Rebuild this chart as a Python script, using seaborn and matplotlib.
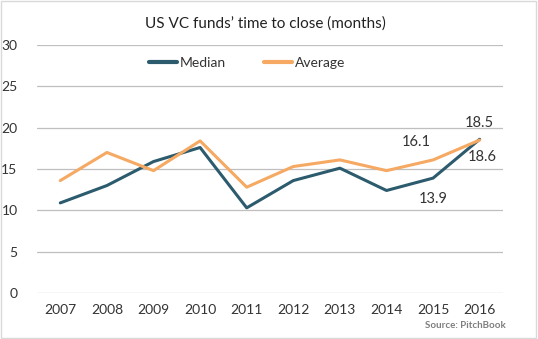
import matplotlib
matplotlib.use("Agg")
import matplotlib.pyplot as plt
import seaborn as sns
import pandas as pd
from matplotlib.patches import Rectangle
from matplotlib.lines import Line2D

years = ["2007", "2008", "2009", "2010", "2011", "2012", "2013", "2014", "2015", "2016"]
median = [10.9, 13.0, 15.9, 17.6, 10.3, 13.6, 15.1, 12.4, 13.9, 18.6]
average = [13.6, 17.0, 14.8, 18.4, 12.8, 15.3, 16.1, 14.8, 16.1, 18.5]
yticks = [0, 5, 10, 15, 20, 25, 30]

sns.set_theme(style="white")
plt.rcParams['font.family'] = ['Lato', 'DejaVu Sans']

df = pd.DataFrame({"year": years * 2,
                   "value": median + average,
                   "series": ["Median"] * len(years) + ["Average"] * len(years)})

fig = plt.figure(figsize=(5.38, 3.39), dpi=100)
ax = fig.add_axes([37/538, 1 - 293/339, 466/538, 248/339])
c_med = "#2C5B6E"
c_avg = "#F5A962"
sns.lineplot(data=df, x="year", y="value", hue="series", palette={"Median": c_med, "Average": c_avg},
             linewidth=2.2, ax=ax, legend=False, sort=False)

ax.set_ylim(0, 30)
ax.set_xlim(-0.5, len(years) - 0.5)
ax.set_yticks(yticks)
ax.set_yticklabels([str(t) for t in yticks])
ax.yaxis.grid(True, color="#BFBFBF", linewidth=0.9)
ax.xaxis.grid(False)
for s in ax.spines.values():
    s.set_visible(False)
ax.tick_params(axis="both", length=0, labelsize=10, colors="#333333")
ax.tick_params(axis="y", pad=14)
ax.tick_params(axis="x", pad=8)
ax.set_xlabel("")
ax.set_ylabel("")

# annotations
ax.annotate("16.1", (8, average[8]), xytext=(-2, 8), textcoords="offset points", ha="right", va="bottom", fontsize=10.5, color="#333333")
ax.annotate("13.9", (8, median[8]), xytext=(0, -10), textcoords="offset points", ha="center", va="top", fontsize=10.5, color="#333333")
ax.annotate("18.5", (9, average[9]), xytext=(0, 7), textcoords="offset points", ha="center", va="bottom", fontsize=10.5, color="#333333")
ax.annotate("18.6", (9, median[9]), xytext=(2, -8), textcoords="offset points", ha="center", va="top", fontsize=10.5, color="#333333")

# legend
handles = [Line2D([0], [0], color=c_med, lw=3), Line2D([0], [0], color=c_avg, lw=3)]
leg = fig.legend(handles, ["Median", "Average"], loc="center", bbox_to_anchor=(247/538, 1 - 63/339),
                 ncol=2, frameon=False, fontsize=10, handlelength=2.0, handletextpad=0.2, columnspacing=2.8)
for t in leg.get_texts():
    t.set_color("#333333")

fig.text(265/538, 1 - 24/339, "US VC funds\u2019 time to close (months)", ha="center", va="center", fontsize=11, color="#222222")
fig.text(506/538, 1 - 325/339, "Source: PitchBook", ha="right", va="center", fontsize=7, color="#7F7F7F", fontweight="bold")

fig.patches.append(Rectangle((0.002, 0.003), 0.995, 0.994, transform=fig.transFigure, fill=False, edgecolor="#D9D9D9", linewidth=1))

fig.savefig("out.png", dpi=100)
